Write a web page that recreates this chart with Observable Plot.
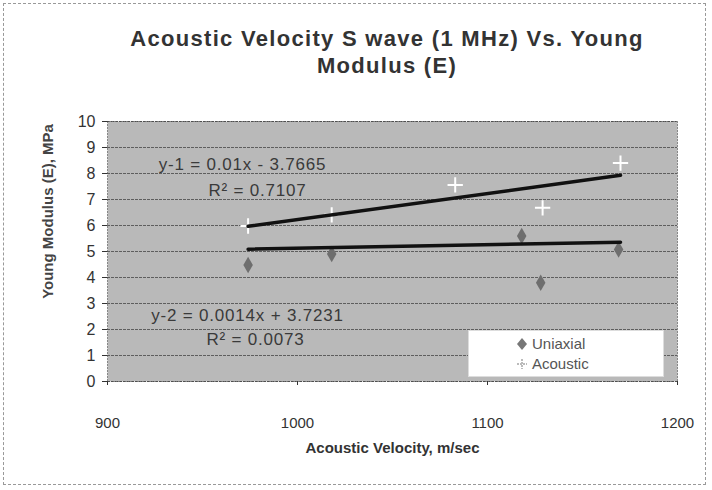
<!DOCTYPE html>
<html>
<head>
<meta charset="utf-8">
<script src="https://cdn.jsdelivr.net/npm/d3@7"></script>
<script src="https://cdn.jsdelivr.net/npm/@observablehq/plot@0.6"></script>
<style>
  html, body { margin: 0; padding: 0; background: #fff; }
  #wrap { position: relative; width: 712px; height: 490px; overflow: hidden; font-family: "Liberation Sans", Arial, sans-serif; }
  #frame { position: absolute; left: 3px; top: 3px; width: 703px; height: 482px; border: 1px dashed #999; box-sizing: border-box; }
  #chart { position: absolute; left: 0; top: 0; }
  #title { position: absolute; left: 0; top: 0; width: 712px; height: 100px; }
  #title div { position: absolute; width: 640px; left: 67px; text-align: center; font-weight: bold; font-size: 22px; letter-spacing: 1.3px; color: #333; }
  #legend { position: absolute; left: 468px; top: 330px; width: 196px; height: 47px; background: #fff; border: 1px solid #ddd; box-sizing: border-box; font-size: 15px; color: #555; }
  #legend .row { position: absolute; left: 47px; display: flex; align-items: center; gap: 4px; }
  .eq { letter-spacing: 0.8px; }
</style>
</head>
<body>
<div id="wrap">
  <div id="frame"></div>
  <div id="chart"></div>
  <div id="title">
    <div id="t1" style="top:26px"></div>
    <div id="t2" style="top:53px"></div>
  </div>
  <div id="legend">
    <div class="row" style="top:4px"><svg width="12" height="14"><path d="M6,1 L11,7 L6,13 L1,7 Z" fill="#777"/></svg><span id="l1"></span></div>
    <div class="row" style="top:24px"><svg width="12" height="14"><path d="M6,2 V12 M1,7 H11" stroke="#bbb" stroke-width="2" stroke-dasharray="2,1"/></svg><span id="l2"></span></div>
  </div>
</div>
<script>
// ---- data ----
const titleLines = ["Acoustic Velocity S wave (1 MHz) Vs. Young", "Modulus (E)"];
const xLabel = "Acoustic Velocity, m/sec";
const yLabel = "Young Modulus (E), MPa";
const seriesNames = ["Uniaxial", "Acoustic"];
const xTicks = [900, 1000, 1100, 1200];
const yTicks = [0, 1, 2, 3, 4, 5, 6, 7, 8, 9, 10];

// Uniaxial (grey diamonds)
const uniaxialV = [974, 1018, 1118, 1128, 1169];
const uniaxialE = [4.48, 4.9, 5.6, 3.8, 5.08];
// Acoustic (white plus markers)
const acousticV = [974, 1018, 1083, 1129, 1170];
const acousticE = [5.98, 6.41, 7.56, 6.68, 8.4];

// trendline end points
const trend1V = [974, 1170];
const trend1E = [5.97, 7.93];
const trend2V = [974, 1170];
const trend2E = [5.09, 5.36];

const eq1 = ["y-1 = 0.01x - 3.7665", "R² = 0.7107"];
const eq2 = ["y-2 = 0.0014x + 3.7231", "R² = 0.0073"];

// ---- build tables ----
const uniaxial = uniaxialV.map((v, i) => ({v, e: uniaxialE[i]}));
const acoustic = acousticV.map((v, i) => ({v, e: acousticE[i]}));
const trend1 = trend1V.map((v, i) => ({v, e: trend1E[i]}));
const trend2 = trend2V.map((v, i) => ({v, e: trend2E[i]}));

const font = "Liberation Sans, Arial, sans-serif";
const eqStyle = {textAnchor: "middle", fontSize: 17, fill: "#3a3a3a", className: "eq"};

const plot = Plot.plot({
  width: 712,
  height: 490,
  marginLeft: 107,
  marginRight: 35,
  marginTop: 121,
  marginBottom: 109,
  style: {fontFamily: font, fontSize: "14px", color: "#333", background: "transparent"},
  x: {domain: [900, 1200], ticks: xTicks},
  y: {domain: [0, 10], ticks: yTicks},
  marks: [
    Plot.frame({fill: "#b9b9b9"}),
    Plot.gridY(yTicks, {stroke: "#222", strokeOpacity: 0.6, strokeDasharray: "3,1"}),
    Plot.frame({stroke: "#333", strokeDasharray: "1,2"}),
    Plot.axisY({ticks: yTicks, tickSize: 5, tickPadding: 7, fontSize: 16, label: null, stroke: "#333"}),
    Plot.axisX({ticks: xTicks, tickSize: 4, tickPadding: 32, fontSize: 15, label: null, tickFormat: d3.format("d")}),
    Plot.text([yLabel], {frameAnchor: "left", textAnchor: "middle", rotate: -90, dx: -59, dy: -40, fontWeight: "bold", fontSize: 15, fill: "#444"}),
    Plot.text([xLabel], {frameAnchor: "bottom", dy: 71, fontWeight: "bold", fontSize: 15, fill: "#333"}),
    Plot.dot(uniaxial, {x: "v", y: "e", symbol: "diamond", fill: "#6e6e6e", r: 5}),
    Plot.dot(acoustic, {x: "v", y: "e", symbol: "plus", stroke: "#fff", strokeWidth: 2, r: 5}),
    Plot.line(trend1, {x: "v", y: "e", stroke: "#111", strokeWidth: 3.5}),
    Plot.line(trend2, {x: "v", y: "e", stroke: "#111", strokeWidth: 3.5}),
    Plot.text([eq1[0]], {...eqStyle, frameAnchor: "top-left", dx: 135, dy: 36}),
    Plot.text([eq1[1]], {...eqStyle, frameAnchor: "top-left", dx: 150, dy: 62}),
    Plot.text([eq2[0]], {...eqStyle, frameAnchor: "bottom-left", dx: 140, dy: -61}),
    Plot.text([eq2[1]], {...eqStyle, frameAnchor: "bottom-left", dx: 148, dy: -37})
  ]
});
document.getElementById("chart").appendChild(plot);
document.getElementById("t1").textContent = titleLines[0];
document.getElementById("t2").textContent = titleLines[1];
document.getElementById("l1").textContent = seriesNames[0];
document.getElementById("l2").textContent = seriesNames[1];
</script>
</body>
</html>
